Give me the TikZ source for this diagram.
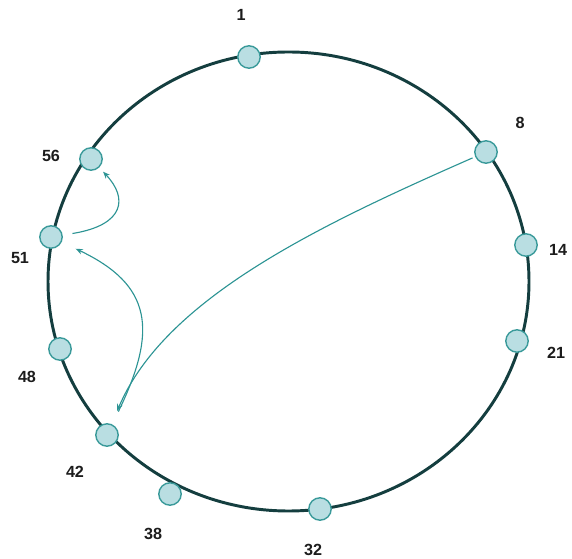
\documentclass[tikz,border=0pt]{standalone}
\usepackage{fontspec}
\setmainfont{Liberation Sans}
\usepackage{tikz}
\usetikzlibrary{arrows.meta}
\definecolor{ringdark}{HTML}{143E3F}
\definecolor{peerteal}{HTML}{3A9A9A}
\definecolor{peerfill}{HTML}{B9DEE2}
\definecolor{hopteal}{HTML}{2C9494}
\definecolor{labdark}{HTML}{1C1C1C}

\begin{document}
\begin{tikzpicture}[
    peer/.style={circle, draw=peerteal, fill=peerfill, line width=1pt,
                 minimum size=0.56cm, inner sep=0pt},
    idlab/.style={font=\fontsize{11.5}{12}\selectfont\bfseries, text=labdark, inner sep=0pt},
    hop/.style={-{Stealth[length=5pt, width=4pt]}, line width=0.8pt, hopteal},
]
    \useasboundingbox (0,0) rectangle (14.3,13.95);

    % Ring
    \draw[ringdark, line width=2.1pt] (7.2125,6.9125) ellipse (6.0125cm and 5.7375cm);

    % Peers on the ring
    \node[peer] (n1)  at (6.225, 12.525) {};
    \node[peer] (n8)  at (12.15, 10.15) {};
    \node[peer] (n14) at (13.15, 7.825) {};
    \node[peer] (n21) at (12.925, 5.425) {};
    \node[peer] (n32) at (8.0, 1.225) {};
    \node[peer] (n38) at (4.25, 1.6) {};
    \node[peer] (n42) at (2.675, 3.075) {};
    \node[peer] (n48) at (1.5, 5.225) {};
    \node[peer] (n51) at (1.275, 8.025) {};
    \node[peer] (n56) at (2.275, 9.975) {};

    % Identifiers
    \node[idlab] (l1)  at (6.025, 13.575) {1};
    \node[idlab] (l8)  at (13.0, 10.875) {8};
    \node[idlab, anchor=west] (l14) at (13.72, 7.7) {14};
    \node[idlab] (l21) at (13.9, 5.125) {21};
    \node[idlab] (l32) at (7.825, 0.2) {32};
    \node[idlab] (l38) at (3.825, 0.6) {38};
    \node[idlab] (l42) at (1.875, 2.15) {42};
    \node[idlab] (l48) at (0.675, 4.525) {48};
    \node[idlab] (l51) at (0.5, 7.5) {51};
    \node[idlab] (l56) at (1.275, 10.05) {56};

    % Lookup hops
    \draw[hop, shorten <=2pt, shorten >=10pt]
        (n8) .. controls (8.0, 8.325) and (4.125, 6.5) .. (n42);
    \draw[hop, shorten <=10pt, shorten >=11pt]
        (n42) .. controls (3.95, 5.7) and (3.8, 6.825) .. (n51);
    \draw[hop, shorten <=7pt, shorten >=4pt]
        (n51) .. controls (3.125, 8.325) and (3.2, 9.0) .. (n56);
\end{tikzpicture}
\end{document}
